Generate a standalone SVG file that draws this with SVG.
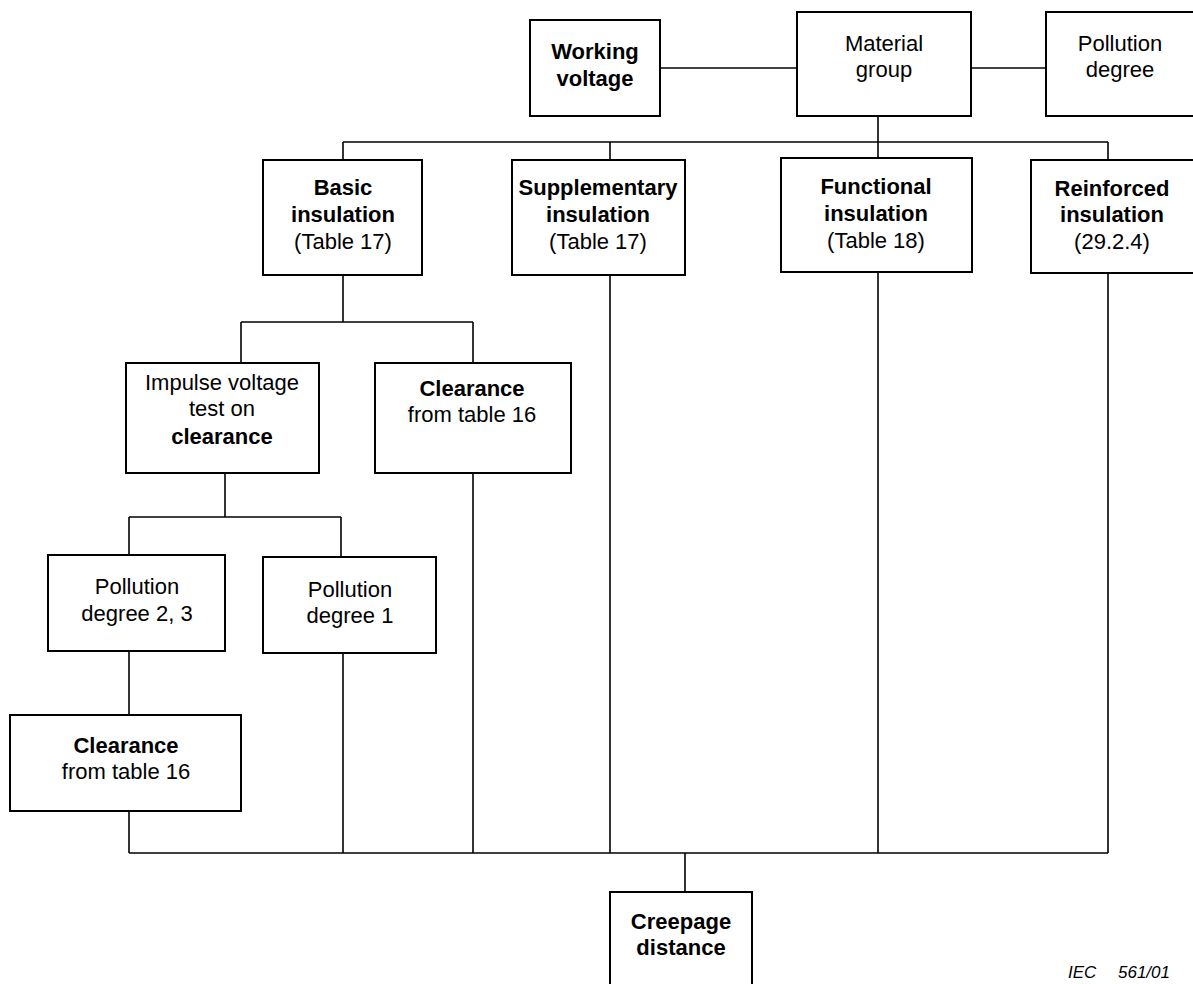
<svg xmlns="http://www.w3.org/2000/svg" width="1193" height="984" viewBox="0 0 1193 984">
<style>
.n rect{fill:#fff;stroke:#000;stroke-width:2}
.c line{stroke:#000;stroke-width:1.6;fill:none}
text{font-family:"Liberation Sans",Arial,sans-serif;font-size:22px;text-anchor:middle;fill:#000}
.b{font-weight:bold}
.iec{font-size:17px;font-style:italic;text-anchor:start}
</style>
<rect width="1193" height="984" style="fill:#fff;stroke:none"/>
<g class="c" id="connectors">
<line x1="660" y1="68" x2="797" y2="68"/>
<line x1="971" y1="68" x2="1046" y2="68"/>
<line x1="878" y1="116" x2="878" y2="142"/>
<line x1="343" y1="142" x2="1108" y2="142"/>
<line x1="343" y1="142" x2="343" y2="160"/>
<line x1="610" y1="142" x2="610" y2="160"/>
<line x1="878" y1="142" x2="878" y2="158"/>
<line x1="1108" y1="142" x2="1108" y2="160"/>
<line x1="343" y1="275" x2="343" y2="322"/>
<line x1="241" y1="322" x2="473" y2="322"/>
<line x1="241" y1="322" x2="241" y2="363"/>
<line x1="473" y1="322" x2="473" y2="363"/>
<line x1="225" y1="473" x2="225" y2="517"/>
<line x1="129" y1="517" x2="341" y2="517"/>
<line x1="129" y1="517" x2="129" y2="555"/>
<line x1="341" y1="517" x2="341" y2="557"/>
<line x1="129" y1="651" x2="129" y2="715"/>
<line x1="129" y1="811" x2="129" y2="853"/>
<line x1="343" y1="653" x2="343" y2="853"/>
<line x1="473" y1="473" x2="473" y2="853"/>
<line x1="610" y1="275" x2="610" y2="853"/>
<line x1="878" y1="272" x2="878" y2="853"/>
<line x1="1108" y1="273" x2="1108" y2="853"/>
<line x1="129" y1="853" x2="1108" y2="853"/>
<line x1="685" y1="853" x2="685" y2="892"/>
</g>
<g class="n" id="working-voltage"><rect x="530" y="20" width="130" height="96"/><text class="b" x="595" y="59">Working</text><text class="b" x="595" y="86">voltage</text></g>
<g class="n" id="material-group"><rect x="797" y="12" width="174" height="104"/><text x="884" y="51">Material</text><text x="884" y="77">group</text></g>
<g class="n" id="pollution-degree"><rect x="1046" y="12" width="160" height="104"/><text x="1120" y="51">Pollution</text><text x="1120" y="77">degree</text></g>
<g class="n" id="basic"><rect x="263" y="160" width="159" height="115"/><text class="b" x="343" y="195">Basic</text><text class="b" x="343" y="222">insulation</text><text x="343" y="249">(Table 17)</text></g>
<g class="n" id="supplementary"><rect x="512" y="160" width="173" height="115"/><text class="b" x="598" y="195">Supplementary</text><text class="b" x="598" y="222">insulation</text><text x="598" y="249">(Table 17)</text></g>
<g class="n" id="functional"><rect x="781" y="158" width="191" height="114"/><text class="b" x="876" y="194">Functional</text><text class="b" x="876" y="221">insulation</text><text x="876" y="248">(Table 18)</text></g>
<g class="n" id="reinforced"><rect x="1031" y="160" width="170" height="113"/><text class="b" x="1112" y="196">Reinforced</text><text class="b" x="1112" y="222">insulation</text><text x="1112" y="249">(29.2.4)</text></g>
<g class="n" id="impulse"><rect x="126" y="363" width="193" height="110"/><text x="222" y="390">Impulse voltage</text><text x="222" y="416">test on</text><text class="b" x="222" y="444">clearance</text></g>
<g class="n" id="clearance-right"><rect x="375" y="363" width="196" height="110"/><text class="b" x="472" y="396">Clearance</text><text x="472" y="422">from table 16</text></g>
<g class="n" id="pd23"><rect x="48" y="555" width="177" height="96"/><text x="137" y="594">Pollution</text><text x="137" y="621">degree 2, 3</text></g>
<g class="n" id="pd1"><rect x="263" y="557" width="173" height="96"/><text x="350" y="597">Pollution</text><text x="350" y="623">degree 1</text></g>
<g class="n" id="clearance-left"><rect x="10" y="715" width="231" height="96"/><text class="b" x="126" y="753">Clearance</text><text x="126" y="779">from table 16</text></g>
<g class="n" id="creepage"><rect x="610" y="892" width="142" height="100"/><text class="b" x="681" y="929">Creepage</text><text class="b" x="681" y="955">distance</text></g>
<text class="iec" y="978"><tspan x="1068">IEC</tspan><tspan x="1118">561/01</tspan></text>
</svg>
